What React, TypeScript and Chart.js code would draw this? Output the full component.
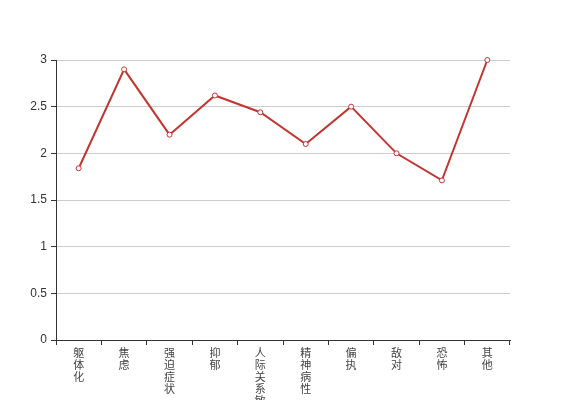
import React, { useEffect, useRef } from "react";
import { Chart, registerables } from "chart.js";

Chart.register(...registerables);

const categories: string[] = ["躯体化", "焦虑", "强迫症状", "抑郁", "人际关系敏感", "精神病性", "偏执", "敌对", "恐怖", "其他"];
const values: number[] = [1.84, 2.9, 2.2, 2.62, 2.44, 2.1, 2.5, 2.0, 1.71, 3.0];
const yTicks: number[] = [0, 0.5, 1, 1.5, 2, 2.5, 3];

const FONT = "'Liberation Sans', 'Noto Sans CJK SC', sans-serif";

export default function App() {
  const ref = useRef<HTMLCanvasElement | null>(null);
  useEffect(() => {
    if (!ref.current) return;
    const chart = new Chart(ref.current, {
      type: "line",
      data: {
        labels: categories.map((c) => c.split("")),
        datasets: [
          {
            data: values,
            borderColor: "#c23531",
            borderWidth: 2,
            backgroundColor: "#fff",
            pointBackgroundColor: "#fff",
            pointBorderColor: "#c23531",
            pointBorderWidth: 1,
            pointRadius: 2.5,
            tension: 0,
            fill: false,
            clip: false,
          } as any,
        ],
      },
      options: {
        animation: false,
        responsive: false,
        maintainAspectRatio: false,
        layout: { padding: { left: 0, top: 60, right: 57, bottom: 0 } },
        plugins: { legend: { display: false }, tooltip: { enabled: false } },
        scales: {
          x: {
            offset: true,
            grid: {
              offset: true,
              drawOnChartArea: false,
              drawTicks: true,
              tickLength: 5,
              tickColor: "#333",
            },
            border: { color: "#333", width: 1 },
            ticks: {
              color: "#444",
              padding: 3,
              maxRotation: 0,
              minRotation: 0,
              autoSkip: false,
              font: { family: FONT, size: 11, lineHeight: 12 / 11 },
            },
            afterFit: (scale: any) => {
              scale.height = 60;
            },
          },
          y: {
            min: 0,
            max: 3,
            afterBuildTicks: (scale: any) => {
              scale.ticks = yTicks.map((v) => ({ value: v }));
            },
            grid: {
              color: "#ccc",
              tickColor: "#333",
              tickLength: 5,
              drawTicks: true,
            },
            border: { color: "#333", width: 1 },
            ticks: {
              color: "#333",
              padding: 4,
              font: { family: FONT, size: 12 },
              callback: (v: any) => String(Number(v)),
            },
            afterFit: (scale: any) => {
              scale.width = 56;
            },
          },
        },
      },
    });
    return () => chart.destroy();
  }, []);
  return (
    <div style={{ position: "fixed", left: 0, top: 0, width: 567, height: 400, background: "#fff" }}>
      <canvas ref={ref} width={567} height={400} style={{ width: 567, height: 400 }} />
    </div>
  );
}
